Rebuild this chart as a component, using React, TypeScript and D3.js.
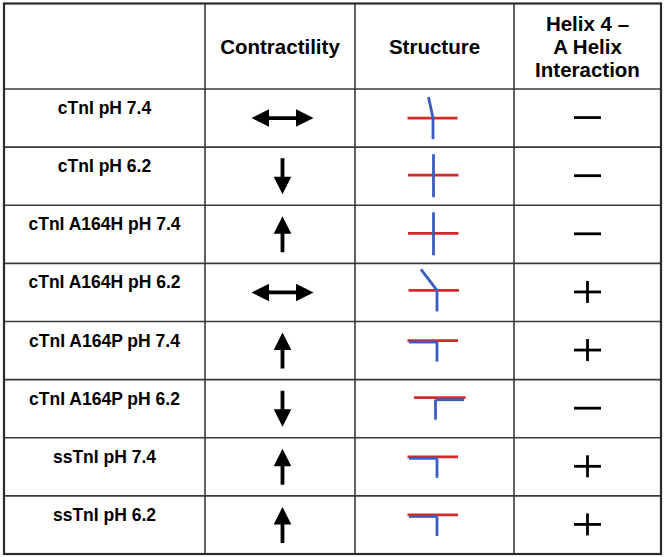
import React from "react";
import * as d3 from "d3";

const rowLabels = [
  "cTnI pH 7.4",
  "cTnI pH 6.2",
  "cTnI A164H pH 7.4",
  "cTnI A164H pH 6.2",
  "cTnI A164P pH 7.4",
  "cTnI A164P pH 6.2",
  "ssTnI pH 7.4",
  "ssTnI pH 6.2",
];
const contractility = ["both", "down", "up", "both", "up", "down", "up", "up"];
const structures = ["kinked", "straight", "straight", "bent", "capped", "shifted", "capped", "capped"];
const helixInteraction = ["-", "-", "-", "+", "+", "-", "+", "+"];
const headerCols = ["", "Contractility", "Structure", "Helix 4 –\nA Helix\nInteraction"];

const W = 664;
const H = 557;
const colEdges = [4, 205, 355, 514, 661];
const headerTop = 3.5;
const headerBottom = 89;
const tableBottom = 554;

const RED = "#d42a2a";
const BLUE = "#3a5cc0";
const FONT = "'Liberation Sans', Arial, Helvetica, sans-serif";

function Arrow({ kind, cx, cy }: { kind: string; cx: number; cy: number }) {
  const hl = 17.5; // head length
  const hw = 8.8; // head half width
  const sw = 1.9; // shaft half width
  if (kind === "both") {
    const x0 = cx - 31;
    const x1 = cx + 31;
    const d = `M${x0},${cy} L${x0 + hl},${cy - hw} L${x0 + hl},${cy - sw} L${x1 - hl},${cy - sw} L${x1 - hl},${cy - hw} L${x1},${cy} L${x1 - hl},${cy + hw} L${x1 - hl},${cy + sw} L${x0 + hl},${cy + sw} L${x0 + hl},${cy + hw} Z`;
    return <path d={d} fill="#000" />;
  }
  const dir = kind === "up" ? -1 : 1;
  const tip = cy + dir * 18;
  const tail = cy - dir * 18;
  const base = tip - dir * hl;
  const d = `M${cx},${tip} L${cx - hw},${base} L${cx - sw},${base} L${cx - sw},${tail} L${cx + sw},${tail} L${cx + sw},${base} L${cx + hw},${base} Z`;
  return <path d={d} fill="#000" />;
}

function Structure({ kind, cx, cy }: { kind: string; cx: number; cy: number }) {
  const sw = 2.8;
  const line = (x1: number, y1: number, x2: number, y2: number, c: string, k: string) => (
    <line key={k} x1={cx + x1} y1={cy + y1} x2={cx + x2} y2={cy + y2} stroke={c} strokeWidth={sw} />
  );
  if (kind === "kinked") {
    return (
      <g>
        {line(-26.5, 0, 23.5, 0, RED, "r")}
        {line(-1, 0, -1, 21, BLUE, "b1")}
        {line(-1, 0, -5.5, -21, BLUE, "b2")}
      </g>
    );
  }
  if (kind === "straight") {
    return (
      <g>
        {line(-26, -1, 24.5, -1, RED, "r")}
        {line(-0.5, -22, -0.5, 21, BLUE, "b1")}
      </g>
    );
  }
  if (kind === "bent") {
    return (
      <g>
        {line(-25.5, -2, 25, -2, RED, "r")}
        {line(3, -2, 3, 19, BLUE, "b1")}
        {line(3, -2, -13, -23, BLUE, "b2")}
      </g>
    );
  }
  if (kind === "shifted") {
    return (
      <g>
        {line(-20, -11, 31.5, -11, RED, "r")}
        {line(1.5, -9, 30, -9, BLUE, "b1")}
        {line(1.5, -9, 1.5, 11, BLUE, "b2")}
      </g>
    );
  }
  // capped
  return (
    <g>
      {line(-26.5, -10, 24, -10, RED, "r")}
      {line(-25, -8.5, 3, -8.5, BLUE, "b1")}
      {line(3, -8.5, 3, 11, BLUE, "b2")}
    </g>
  );
}

function Sign({ kind, cx, cy }: { kind: string; cx: number; cy: number }) {
  const sw = 2.8;
  return (
    <g stroke="#000" strokeWidth={sw}>
      <line x1={cx - 13.5} y1={cy} x2={cx + 13.5} y2={cy} />
      {kind === "+" && <line x1={cx} y1={cy - 11} x2={cx} y2={cy + 11} />}
    </g>
  );
}

export default function App() {
  const y = d3.scaleLinear().domain([0, rowLabels.length]).range([headerBottom, tableBottom]);
  const colMid = (i: number) => (colEdges[i] + colEdges[i + 1]) / 2;
  const rowMid = (i: number) => (y(i) + y(i + 1)) / 2;

  return (
    <svg width={W} height={H} style={{ position: "absolute", left: 0, top: 0, background: "#fff" }}>
      <rect x={0} y={0} width={W} height={H} fill="#fff" />
      {/* header */}
      {headerCols.map((t, i) => {
        if (!t) return null;
        const lines = t.split("\n");
        const lh = 23;
        const mid = (headerTop + headerBottom) / 2;
        const first = mid - ((lines.length - 1) * lh) / 2 + 7.5;
        return (
          <text key={i} x={colMid(i)} textAnchor="middle" fontFamily={FONT} fontWeight="bold" fontSize={20.5} fill="#000">
            {lines.map((l, j) => (
              <tspan key={j} x={colMid(i)} y={first + j * lh}>
                {l}
              </tspan>
            ))}
          </text>
        );
      })}
      {/* rows */}
      {rowLabels.map((lab, i) => (
        <g key={lab}>
          <text x={colMid(0)} y={y(i) + 25} textAnchor="middle" fontFamily={FONT} fontWeight="bold" fontSize={17.5} fill="#000">
            {lab}
          </text>
          <Arrow kind={contractility[i]} cx={colMid(1) + 2.5} cy={rowMid(i)} />
          <Structure kind={structures[i]} cx={colMid(2) - 0.5} cy={rowMid(i)} />
          <Sign kind={helixInteraction[i]} cx={colMid(3)} cy={rowMid(i) - 0.5} />
        </g>
      ))}
      {/* grid */}
      <g stroke="#3a3a3a" strokeWidth={1.6}>
        {colEdges.slice(1, -1).map((x, i) => (
          <line key={"v" + i} x1={x} y1={headerTop} x2={x} y2={tableBottom} />
        ))}
        {d3.range(0, rowLabels.length).map((i) => (
          <line key={"h" + i} x1={colEdges[0]} y1={y(i)} x2={colEdges[colEdges.length - 1]} y2={y(i)} />
        ))}
      </g>
      <rect
        x={colEdges[0]}
        y={headerTop}
        width={colEdges[colEdges.length - 1] - colEdges[0]}
        height={tableBottom - headerTop}
        fill="none"
        stroke="#2a2a2a"
        strokeWidth={2.2}
      />
    </svg>
  );
}
